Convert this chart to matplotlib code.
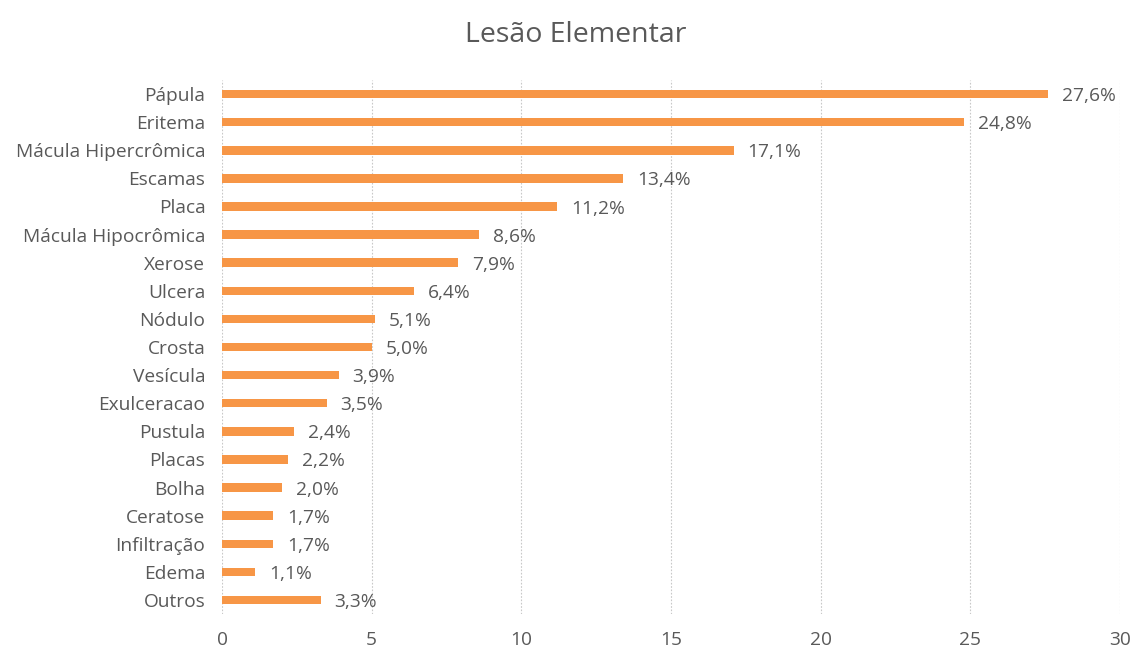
import matplotlib.pyplot as plt

categories = ["Pápula", "Eritema", "Mácula Hipercrômica", "Escamas", "Placa",
              "Mácula Hipocrômica", "Xerose", "Ulcera", "Nódulo", "Crosta",
              "Vesícula", "Exulceracao", "Pustula", "Placas", "Bolha",
              "Ceratose", "Infiltração", "Edema", "Outros"]
values = [27.6, 24.8, 17.1, 13.4, 11.2, 8.6, 7.9, 6.4, 5.1, 5.0,
          3.9, 3.5, 2.4, 2.2, 2.0, 1.7, 1.7, 1.1, 3.3]
xticks = [0, 5, 10, 15, 20, 25, 30]

plt.rcParams['font.family'] = ['Open Sans', 'DejaVu Sans']
text_color = '#595959'

fig = plt.figure(figsize=(11.35, 6.48), dpi=100)
ax = fig.add_axes([0.1956, 0.0525, 0.791, 0.824])

pos = list(range(len(categories)))
ax.barh(pos, values, height=0.3, color='#F79646', zorder=3)
for p, v in zip(pos, values):
    ax.annotate(f"{v:.1f}".replace('.', ',') + '%', (v, p), xytext=(10, -1.5),
                textcoords='offset points', va='center', ha='left',
                fontsize=13.8, color=text_color)

ax.set_xlim(0, 30)
ax.set_ylim(len(categories) - 0.5, -0.5)
ax.set_xticks(xticks)
ax.set_yticks(pos)
ax.set_yticklabels(categories)
ax.tick_params(length=0, labelsize=13.8, labelcolor=text_color)
ax.tick_params(axis='x', pad=12)
ax.tick_params(axis='y', pad=12)
ax.xaxis.grid(True, linestyle=(0, (1.5, 1.5)), color='#C8C8C8', linewidth=0.8, zorder=0)
for s in ax.spines.values():
    s.set_visible(False)

fig.suptitle("Lesão Elementar", x=0.507, y=0.967, fontsize=20.5, color=text_color)

fig.savefig("out.png", dpi=100)
